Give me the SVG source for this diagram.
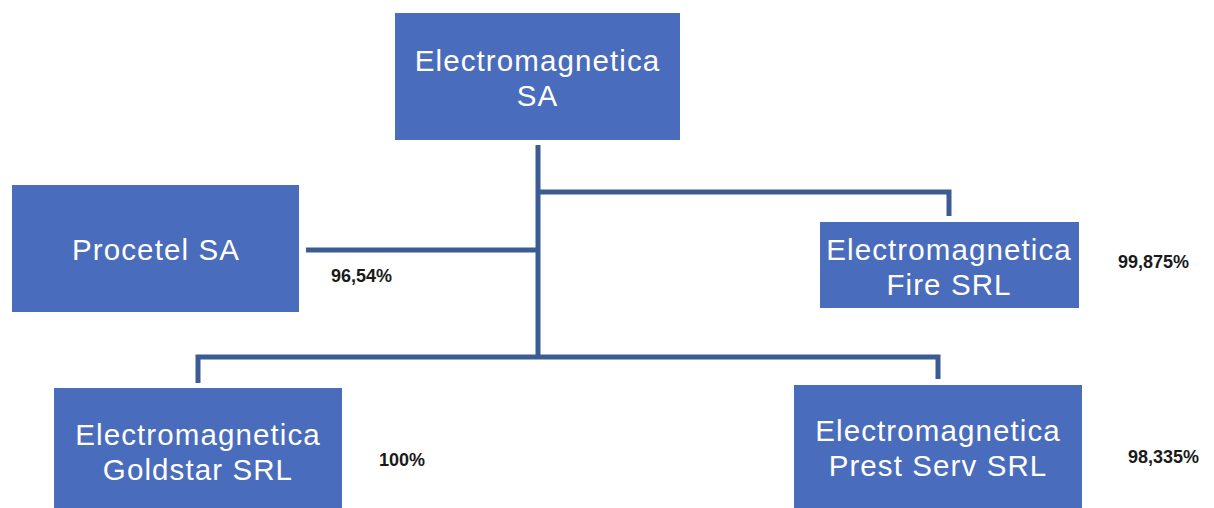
<svg xmlns="http://www.w3.org/2000/svg" width="1214" height="508" viewBox="0 0 1214 508">
<style>
.box{fill:#4a6cbc;}
.lbl{font-family:"Liberation Sans",Arial,sans-serif;font-size:29.5px;letter-spacing:1.1px;fill:#ffffff;text-anchor:middle;}
.pct{font-family:"Liberation Sans",Arial,sans-serif;font-size:18px;font-weight:bold;fill:#1a1a1a;}
.con{fill:none;stroke:#3b5b93;stroke-width:5;stroke-linejoin:miter;stroke-linecap:butt;}
</style>
<rect width="1214" height="508" fill="#ffffff"/>
<g id="connectors">
<path class="con" d="M538,145 V358"/>
<path class="con" d="M538,192 H949 V216"/>
<path class="con" d="M306,250 H538"/>
<path class="con" d="M198,383 V357 H938 V379"/>
</g>
<g id="node-electromagnetica-sa">
<rect class="box" x="395" y="13" width="285" height="127"/>
<text class="lbl" x="537.5" y="71">Electromagnetica</text>
<text class="lbl" x="537.5" y="106">SA</text>
</g>
<g id="node-procetel">
<rect class="box" x="12" y="185" width="287" height="127"/>
<text class="lbl" x="156" y="260">Procetel SA</text>
<text class="pct" x="331" y="282">96,54%</text>
</g>
<g id="node-fire">
<rect class="box" x="820" y="222" width="259" height="86"/>
<text class="lbl" x="949" y="260">Electromagnetica</text>
<text class="lbl" x="949" y="295">Fire SRL</text>
<text class="pct" x="1118" y="268">99,875%</text>
</g>
<g id="node-goldstar">
<rect class="box" x="54" y="388" width="288" height="120"/>
<text class="lbl" x="198" y="445">Electromagnetica</text>
<text class="lbl" x="198" y="480">Goldstar SRL</text>
<text class="pct" x="379" y="466">100%</text>
</g>
<g id="node-prest-serv">
<rect class="box" x="794" y="385" width="288" height="123"/>
<text class="lbl" x="938" y="441">Electromagnetica</text>
<text class="lbl" x="938" y="476">Prest Serv SRL</text>
<text class="pct" x="1128" y="463">98,335%</text>
</g>
</svg>
